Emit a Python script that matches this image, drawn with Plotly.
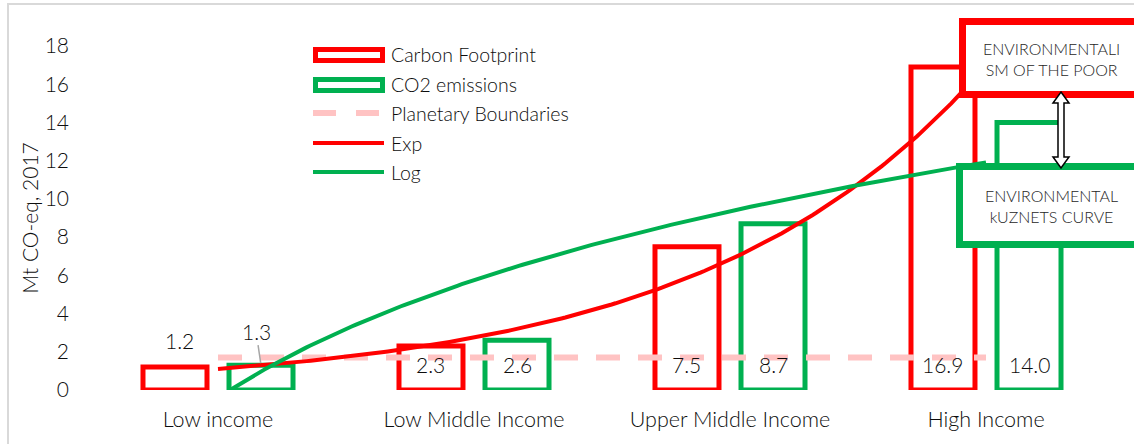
import numpy as np
import plotly.graph_objects as go

# ---------------- data ----------------
categories = ["Low income", "Low Middle Income", "Upper Middle Income", "High Income"]
carbon_footprint = [1.2, 2.3, 7.5, 16.9]
co2_emissions = [1.3, 2.6, 8.7, 14.0]
planetary_boundaries = [1.7, 1.7, 1.7, 1.7]
y_ticks = [0, 2, 4, 6, 8, 10, 12, 14, 16, 18]
box_texts = ["ENVIRONMENTALI<br>SM OF THE POOR", "ENVIRONMENTAL<br>kUZNETS CURVE"]
y_title = "Mt CO-eq, 2017"

RED = "#FF0000"
GREEN = "#00B050"
PINK = "#FFC3C3"
TXT = "#0D0D0D"
FONT = "Lato"
WT = 300

W, H = 1134, 444
L, R, T, B = 90, 20, 46, 54
PW, PH = W - L - R, H - T - B

def px(x):
    return (x - L) / PW

def py(y):
    return (H - B - y) / PH

xpos = np.arange(1, len(categories) + 1)

# trendlines (Excel-style fits computed from the data)
b_exp, lna = np.polyfit(xpos, np.log(carbon_footprint), 1)
xe = np.linspace(1, len(categories), 200)
ye = np.exp(lna) * np.exp(b_exp * xe)

b_log, a_log = np.polyfit(np.log(xpos), co2_emissions, 1)
x_start = max(1.0, float(np.exp(-a_log / b_log)))
xl = np.linspace(x_start, len(categories), 200)
yl = a_log + b_log * np.log(xl)

BW = 0.25
OFF = 0.168

fig = go.Figure()

fig.add_trace(go.Scatter(
    x=xpos, y=planetary_boundaries, mode="lines", name="Planetary Boundaries",
    line=dict(color=PINK, width=6, dash="24px,18px"), showlegend=False))

fig.add_trace(go.Bar(
    x=xpos, y=carbon_footprint, name="Carbon Footprint", width=BW, offset=-OFF - BW / 2,
    marker=dict(color="rgba(255,255,255,0)", line=dict(color=RED, width=5)),
    showlegend=False))
fig.add_trace(go.Bar(
    x=xpos, y=co2_emissions, name="CO2 emissions", width=BW, offset=OFF - BW / 2,
    marker=dict(color="rgba(255,255,255,0)", line=dict(color=GREEN, width=5)),
    showlegend=False))

fig.add_trace(go.Scatter(x=xe, y=ye, mode="lines", name="Exp",
                         line=dict(color=RED, width=4), showlegend=False))
fig.add_trace(go.Scatter(x=xl, y=yl, mode="lines", name="Log",
                         line=dict(color=GREEN, width=4), showlegend=False))

shapes = []
annotations = []
LBL = dict(family=FONT, size=21, color=TXT, weight=WT)

# value labels: first category above the bars, others inside near the base
for i in range(len(categories)):
    if i == 0:
        annotations.append(dict(x=xpos[i] - OFF, y=carbon_footprint[i], xref="x", yref="y",
                                text=f"{carbon_footprint[i]:.1f}", showarrow=False,
                                yshift=27, xshift=5, font=LBL))
        annotations.append(dict(x=xpos[i] + OFF, y=co2_emissions[i], xref="x", yref="y",
                                text=f"{co2_emissions[i]:.1f}", showarrow=True, ax=-5, ay=-34,
                                arrowhead=0, arrowwidth=1.5, arrowcolor="#A6A6A6", standoff=2,
                                font=LBL))
    else:
        annotations.append(dict(x=xpos[i] - OFF, y=0, xref="x", yref="y",
                                text=f"{carbon_footprint[i]:.1f}", showarrow=False,
                                yshift=26, font=LBL))
        annotations.append(dict(x=xpos[i] + OFF, y=0, xref="x", yref="y",
                                text=f"{co2_emissions[i]:.1f}", showarrow=False,
                                yshift=26, font=LBL))

# chart border
shapes.append(dict(type="rect", xref="paper", yref="paper", x0=px(8), x1=px(1150),
                   y0=py(460), y1=py(4), line=dict(color="#D9D9D9", width=2), layer="below"))

# manual legend
legend_rows = [54, 84, 113, 143, 172]
legend_names = ["Carbon Footprint", "CO2 emissions", "Planetary Boundaries", "Exp", "Log"]
shapes.append(dict(type="rect", xref="paper", yref="paper", x0=px(315.5), x1=px(382.5),
                   y0=py(60.5), y1=py(49.5), line=dict(color=RED, width=5), fillcolor="white"))
shapes.append(dict(type="rect", xref="paper", yref="paper", x0=px(315.5), x1=px(382.5),
                   y0=py(90.5), y1=py(79.5), line=dict(color=GREEN, width=5), fillcolor="white"))
shapes.append(dict(type="line", xref="paper", yref="paper", x0=px(313), x1=px(380),
                   y0=py(113), y1=py(113), line=dict(color=PINK, width=6, dash="23px,20px")))
shapes.append(dict(type="line", xref="paper", yref="paper", x0=px(313), x1=px(384),
                   y0=py(143), y1=py(143), line=dict(color=RED, width=4)))
shapes.append(dict(type="line", xref="paper", yref="paper", x0=px(313), x1=px(384),
                   y0=py(172), y1=py(172), line=dict(color=GREEN, width=4)))
for yy, name in zip(legend_rows, legend_names):
    annotations.append(dict(x=px(389), y=py(yy), xref="paper", yref="paper", text=name,
                            showarrow=False, xanchor="left", yanchor="middle",
                            font=dict(family=FONT, size=19.5, color=TXT, weight=WT)))

# callout boxes
shapes.append(dict(type="rect", xref="paper", yref="paper", x0=px(962.5), x1=px(1150),
                   y0=py(94.5), y1=py(21.5), line=dict(color=RED, width=7), fillcolor="white",
                   layer="above"))
shapes.append(dict(type="rect", xref="paper", yref="paper", x0=px(959.5), x1=px(1150),
                   y0=py(244.5), y1=py(166.5), line=dict(color=GREEN, width=7), fillcolor="white",
                   layer="above"))
annotations.append(dict(x=px(1051), y=py(59), xref="paper", yref="paper", text=box_texts[0],
                        showarrow=False, xanchor="center", yanchor="middle",
                        font=dict(family=FONT, size=16, color="#262626", weight=WT)))
annotations.append(dict(x=px(1051), y=py(206), xref="paper", yref="paper", text=box_texts[1],
                        showarrow=False, xanchor="center", yanchor="middle",
                        font=dict(family=FONT, size=16, color="#262626", weight=WT)))

# double arrow
shapes.append(dict(type="path", xref="paper", yref="paper", xsizemode="pixel", ysizemode="pixel",
                   xanchor=px(1061), yanchor=py(130),
                   path="M0,38 L8,27 L3,27 L3,-27 L8,-27 L0,-38 L-8,-27 L-3,-27 L-3,27 L-8,27 Z",
                   line=dict(color="black", width=1.5), fillcolor="white", layer="above"))

fig.update_layout(
    width=W, height=H, margin=dict(l=L, r=R, t=T, b=B),
    paper_bgcolor="white", plot_bgcolor="white",
    barmode="overlay", showlegend=False,
    shapes=shapes, annotations=annotations,
    font=dict(family=FONT, color=TXT, weight=WT),
)
fig.update_xaxes(range=[0.5, len(categories) + 0.5], tickvals=list(xpos), ticktext=categories,
                 showgrid=False, zeroline=False, showline=False, ticks="",
                 tickfont=dict(family=FONT, size=21.5, color=TXT, weight=WT), ticklabelstandoff=14,
                 automargin=False)
fig.update_yaxes(range=[0, 18], tickvals=y_ticks, showgrid=False, zeroline=False, showline=False,
                 ticks="", tickfont=dict(family=FONT, size=21, color=TXT, weight=WT),
                 ticklabelstandoff=20,
                 title=dict(text=y_title, font=dict(family=FONT, size=21, color=TXT, weight=WT),
                            standoff=0),
                 automargin=False)

fig.write_html("out.html", config={"displayModeBar": False},
               post_script="document.body.style.margin='0';")
